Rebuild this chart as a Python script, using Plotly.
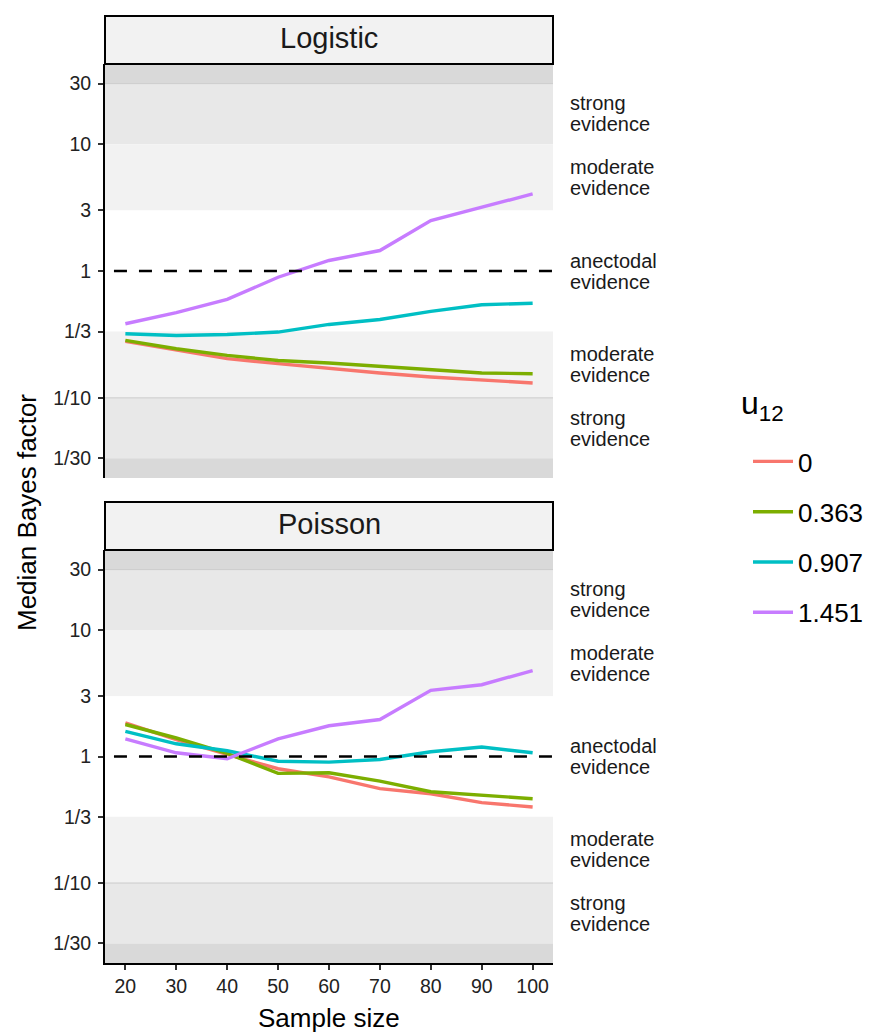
import math
import plotly.graph_objects as go

# Sample sizes and median Bayes factors per model and u12 value
sample_size = [20, 30, 40, 50, 60, 70, 80, 90, 100]
u12_levels = ["0", "0.363", "0.907", "1.451"]
colors = ["#F8766D", "#7CAE00", "#00BFC4", "#C77CFF"]

logistic_bf = {
    "0":     [0.279, 0.237, 0.204, 0.186, 0.170, 0.157, 0.146, 0.139, 0.131],
    "0.363": [0.284, 0.244, 0.216, 0.197, 0.188, 0.177, 0.168, 0.157, 0.155],
    "0.907": [0.320, 0.310, 0.316, 0.330, 0.379, 0.415, 0.480, 0.542, 0.557],
    "1.451": [0.384, 0.469, 0.597, 0.893, 1.21, 1.45, 2.50, 3.18, 4.05],
}
poisson_bf = {
    "0":     [1.84, 1.36, 1.04, 0.80, 0.69, 0.557, 0.508, 0.432, 0.399],
    "0.363": [1.79, 1.40, 1.06, 0.735, 0.744, 0.639, 0.527, 0.496, 0.464],
    "0.907": [1.58, 1.26, 1.11, 0.918, 0.902, 0.946, 1.09, 1.19, 1.07],
    "1.451": [1.38, 1.07, 0.96, 1.38, 1.75, 1.96, 3.33, 3.69, 4.78],
}

tick_vals = [1/30, 1/10, 1/3, 1, 3, 10, 30]
tick_text = ["1/30", "1/10", "1/3", "1", "3", "10", "30"]

# Evidence bands: (lower, upper, fill, label lines)
ymin, ymax = 10 ** -1.632, 10 ** 1.632
bands = [
    (30, ymax, "#D9D9D9", None),
    (10, 30, "#E8E8E8", ("strong", "evidence")),
    (3, 10, "#F2F2F2", ("moderate", "evidence")),
    (1/3, 3, "#FFFFFF", ("anectodal", "evidence")),
    (1/10, 1/3, "#F2F2F2", ("moderate", "evidence")),
    (1/30, 1/10, "#E8E8E8", ("strong", "evidence")),
    (ymin, 1/30, "#D9D9D9", None),
]

W, H = 881, 1034
x_dom = [105 / W, 553 / W]
top_dom = [(H - 478) / H, (H - 64) / H]
bot_dom = [(H - 963) / H, (H - 550) / H]
strip_top = [(H - 64) / H, (H - 16) / H]
strip_bot = [(H - 550) / H, (H - 502) / H]

FONT = "Liberation Sans, Arial, sans-serif"
fig = go.Figure()

panels = [("Logistic", logistic_bf, "x", "y"), ("Poisson", poisson_bf, "x2", "y2")]
for i, (name, data, xa, ya) in enumerate(panels):
    for lvl, col in zip(u12_levels, colors):
        fig.add_trace(go.Scatter(
            x=sample_size, y=data[lvl], mode="lines",
            line=dict(color=col, width=3.4),
            name=lvl, legendgroup=lvl, showlegend=(i == 0),
            xaxis=xa, yaxis=ya,
        ))

shapes, annotations = [], []
for (name, data, xa, ya), strip in zip(panels, [strip_top, strip_bot]):
    for lo, hi, fill, label in bands:
        shapes.append(dict(type="rect", xref=f"{xa} domain", yref=ya,
                           x0=0, x1=1, y0=lo, y1=hi, fillcolor=fill,
                           line=dict(width=0), layer="below"))
        if label:
            mid = (math.log10(lo) + math.log10(hi)) / 2
            for txt, shift in zip(label, (10.5, -10.5)):
                annotations.append(dict(text=txt, xref="paper", yref=ya,
                                        x=568 / W, y=mid, yshift=shift,
                                        xanchor="left", yanchor="middle", align="left",
                                        showarrow=False,
                                        font=dict(family=FONT, size=20, color="#1a1a1a")))
    for b in [30, 1/10]:
        shapes.append(dict(type="line", xref=f"{xa} domain", yref=ya, x0=0, x1=1,
                           y0=b, y1=b, line=dict(color="#CCCCCC", width=1), layer="below"))
    # reference line at BF = 1
    shapes.append(dict(type="line", xref=f"{xa} domain", yref=ya, x0=0.02, x1=1,
                       y0=1, y1=1, line=dict(color="black", width=2.5, dash="13px,12px")))
    # facet strip
    shapes.append(dict(type="rect", xref="paper", yref="paper",
                       x0=x_dom[0], x1=x_dom[1], y0=strip[0], y1=strip[1],
                       fillcolor="#F2F2F2", line=dict(color="black", width=2)))
    annotations.append(dict(text=name, xref="paper", yref="paper",
                            x=(x_dom[0] + x_dom[1]) / 2, y=(strip[0] + strip[1]) / 2,
                            yshift=2, showarrow=False, xanchor="center", yanchor="middle",
                            font=dict(family=FONT, size=29, color="#1a1a1a")))

annotations.append(dict(text="Median Bayes factor", xref="paper", yref="paper",
                        x=27 / W, y=(H - 513) / H, textangle=-90, showarrow=False,
                        xanchor="center", yanchor="middle",
                        font=dict(family=FONT, size=26, color="black")))
annotations.append(dict(text="Sample size", xref="paper", yref="paper",
                        x=(x_dom[0] + x_dom[1]) / 2, y=(H - 1018) / H, showarrow=False,
                        xanchor="center", yanchor="middle",
                        font=dict(family=FONT, size=26, color="black")))
# legend title
annotations.append(dict(text="u<sub>12</sub>", xref="paper", yref="paper",
                        x=739 / W, y=(H - 405) / H, showarrow=False,
                        xanchor="left", yanchor="middle",
                        font=dict(family=FONT, size=32, color="black")))

yaxis_common = dict(type="log", range=[math.log10(ymin), math.log10(ymax)],
                    tickvals=tick_vals, ticktext=tick_text, ticks="outside",
                    ticklen=5, tickwidth=1.5, tickcolor="#333333",
                    showline=True, linecolor="black", linewidth=2,
                    showgrid=False, zeroline=False, ticklabelstandoff=3,
                    tickfont=dict(family=FONT, size=19.5, color="#222222"))
xaxis_common = dict(range=[16, 104], tickvals=sample_size, showgrid=False,
                    zeroline=False, domain=x_dom)

fig.update_layout(
    width=W, height=H, margin=dict(l=0, r=0, t=0, b=0),
    plot_bgcolor="white", paper_bgcolor="white",
    xaxis=dict(**xaxis_common, anchor="y", showticklabels=False, showline=False, ticks=""),
    xaxis2=dict(**xaxis_common, anchor="y2", matches="x", ticks="outside", ticklen=5,
                tickwidth=1.5, tickcolor="#333333", showline=True, linecolor="black",
                linewidth=2, tickfont=dict(family=FONT, size=19.5, color="#222222")),
    yaxis=dict(**yaxis_common, domain=top_dom, anchor="x"),
    yaxis2=dict(**yaxis_common, domain=bot_dom, anchor="x2"),
    shapes=shapes, annotations=annotations,
    legend=dict(x=748 / W, y=(H - 438) / H, xanchor="left", yanchor="top",
                font=dict(family=FONT, size=26, color="black"),
                itemwidth=40, tracegroupgap=13.5, bgcolor="rgba(0,0,0,0)"),
    showlegend=True,
)

fig.write_html("out.html")
